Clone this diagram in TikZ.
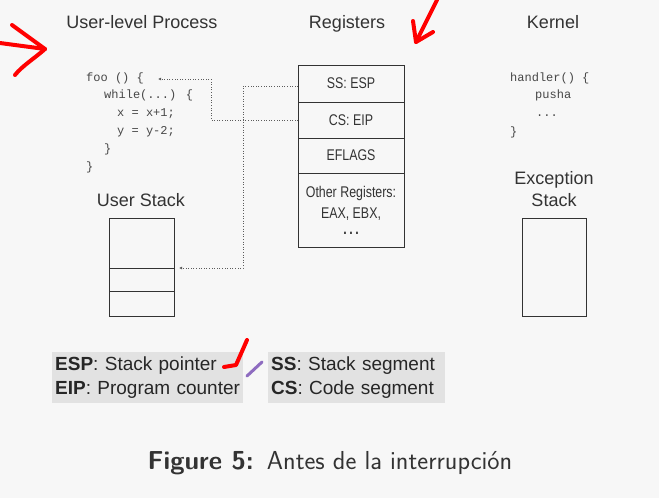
\documentclass[tikz,border=0pt]{standalone}
\usepackage{fontspec}
\setmainfont{Liberation Sans}
\newfontfamily\regfont[FakeStretch=0.8]{Liberation Sans}
\newfontfamily\codefont{Liberation Mono}
\usetikzlibrary{arrows.meta,positioning}
\definecolor{bgcol}{HTML}{F7F7F7}
\definecolor{ink}{HTML}{333333}
\definecolor{legfill}{HTML}{E2E2E2}
\definecolor{penpurple}{HTML}{8E6CC0}
\tikzset{head/.style={font=\fontsize{18}{20}\selectfont,text=ink,anchor=base,inner sep=0pt},
  code/.style={font=\codefont\fontsize{12}{14}\selectfont,text=ink!90,anchor=base west,inner sep=0pt},
  cell/.style={draw=ink,thick,outer sep=0pt,minimum width=106pt,inner sep=0pt,align=center,text=ink,
    font=\regfont\fontsize{15.5}{21}\selectfont},
  stk/.style={draw=ink,thick,outer sep=0pt,minimum width=65pt,inner sep=0pt},
  dotarr/.style={dotted,ink!80,semithick,-{Latex[length=3pt,width=3pt]}},
  legend/.style={fill=legfill,anchor=north west,align=left,inner xsep=3pt,inner ysep=0pt,
    minimum height=51pt,font=\fontsize{19}{24}\selectfont,text=black!85},
  pen/.style={red,line width=4pt,line cap=round,line join=round}}
\begin{document}
\begin{tikzpicture}[x=1pt,y=-1pt]
\fill[bgcol] (0,0) rectangle (659,498);
\useasboundingbox (0,0) rectangle (659,498);
\node[head] (uproc) at (142,28) {User-level Process};
\node[head] (regs) at (347,28) {Registers};
\node[head] (kern) at (553,28) {Kernel};
\node[code] (foo1) at (86,81) {foo () \{};
\node[code] (foo2) at (104,98.5) {while(...) \{};
\node[code] (foo3) at (117,116.5) {x = x+1;};
\node[code] (foo4) at (117,134.5) {y = y-2;};
\node[code] (foo5) at (104,152.5) {\}};
\node[code] (foo6) at (86,170) {\}};
\node[code] (hnd1) at (510,81) {handler() \{};
\node[code] (hnd2) at (535,98.5) {pusha};
\node[code] (hnd3) at (536,116) {...};
\node[code] (hnd4) at (510,135) {\}};
\node[cell,minimum height=37pt] (ss) at (351,83.5) {SS: ESP};
\node[cell,minimum height=36pt,below=0pt of ss] (cs) {CS: EIP};
\node[cell,minimum height=35pt,below=0pt of cs] (efl) {EFLAGS};
\node[cell,minimum height=74pt,below=0pt of efl] (oth) {Other Registers:\\EAX, EBX,\\[-5pt]\textbf{.\,.\,.}};
\node[head] (ustk) at (141,206) {User Stack};
\node[stk,minimum height=50pt] (us1) at (141.5,243) {};
\node[stk,minimum height=23pt,below=0pt of us1] (us2) {};
\node[stk,minimum height=25pt,below=0pt of us2] (us3) {};
\node[head] (exc) at (554,184) {Exception};
\node[head] (excs) at (554,206) {Stack};
\node[stk,minimum width=64pt,minimum height=98pt] (es) at (554,267) {};
\coordinate (footip) at (158,79);
\draw[dotarr] ([yshift=-2.5pt]ss.west) -- ++(-55,0) |- ([xshift=5pt]us2.north east);
\draw[dotarr] (cs.west) -- ++(-87,0) |- (footip);
\node[legend,text width=185pt] (legl) at (52,352) {\textbf{ESP}: Stack pointer\\\textbf{EIP}: Program counter};
\node[legend,text width=171pt] (legr) at (268,352) {\textbf{SS}: Stack segment\\\textbf{CS}: Code segment};
\node[font=\sffamily\fontsize{26}{29}\selectfont,text=ink] (cap) at (330,463) {\textbf{Figure 5:}\enspace Antes de la interrupción};
\draw[pen] (0,43) -- (45,49);
\draw[pen] (12,25) -- (45,49) .. controls (35,58) and (22,66) .. (15,75);
\draw[pen] (437,0) -- (416,42);
\draw[pen] (413,21) -- (416,42) -- (433,32);
\draw[pen] (247,340) .. controls (242,352) .. (236,365) -- (224,367);
\draw[penpurple,line width=3pt,line cap=round] (262,362) -- (247,376);
\end{tikzpicture}
\end{document}
